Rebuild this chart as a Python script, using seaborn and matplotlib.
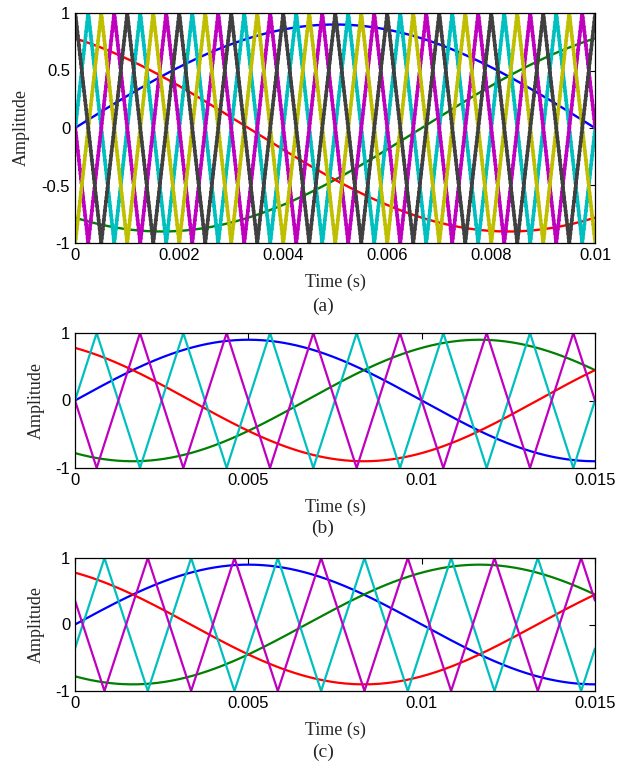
import numpy as np
import pandas as pd
import matplotlib
matplotlib.use("Agg")
import matplotlib.pyplot as plt
import seaborn as sns

# =============== DATA ===============
# reference sine waves, same in all three panels
SINE_NAMES = ["blue", "green", "red"]
SINE_AMPLITUDE = [0.9, 0.9, 0.9]
SINE_FREQ_HZ = [50, 50, 50]
SINE_PHASE_DEG = [0, -120, 120]

# triangular carriers: frequency and time of the first trough (s)
CARRIER_A_NAMES = ["cyan", "magenta", "yellow", "gray"]
CARRIER_A_FREQ_HZ = 1000
CARRIER_A_TROUGH_S = [0.00075, 0.00025, 0.0, 0.0005]
CARRIER_A_STEP_S = 1e-5

CARRIER_BC_NAMES = ["cyan", "magenta"]
CARRIER_BC_FREQ_HZ = 400
CARRIER_B_TROUGH_S = [0.001875, 0.000625]
CARRIER_C_TROUGH_S = [0.0021, 0.00085]

T_END = [0.01, 0.015, 0.015]
PANEL_LABELS = ["(a)", "(b)", "(c)"]

XTICKS_A = [0, 0.002, 0.004, 0.006, 0.008, 0.01]
XTICKLABELS_A = ["0", "0.002", "0.004", "0.006", "0.008", "0.01"]
XTICKS_BC = [0, 0.005, 0.01, 0.015]
XTICKLABELS_BC = ["0", "0.005", "0.01", "0.015"]
YTICKS_A = [-1, -0.5, 0, 0.5, 1]
YTICKLABELS_A = ["-1", "-0.5", "0", "0.5", "1"]
YTICKS_BC = [-1, 0, 1]
YTICKLABELS_BC = ["-1", "0", "1"]

COLORS = {
    "blue": (0, 0, 1), "green": (0, 0.5, 0), "red": (1, 0, 0),
    "cyan": (0, 0.75, 0.75), "magenta": (0.75, 0, 0.75),
    "yellow": (0.75, 0.75, 0), "gray": (0.25, 0.25, 0.25),
}


# =============== BUILD SIGNALS ===============
def sines(t):
    rows = []
    for name, a, f, ph in zip(SINE_NAMES, SINE_AMPLITUDE, SINE_FREQ_HZ, SINE_PHASE_DEG):
        y = a * np.sin(2 * np.pi * f * t + np.deg2rad(ph))
        rows.append(pd.DataFrame({"time": t, "amplitude": y, "signal": name}))
    return pd.concat(rows, ignore_index=True)


def carriers(t, names, freq, troughs):
    rows = []
    period = 1.0 / freq
    for name, t0 in zip(names, troughs):
        phase = np.mod((t - t0) / period, 1.0)
        y = 1 - 4 * np.abs(phase - 0.5)
        rows.append(pd.DataFrame({"time": t, "amplitude": y, "signal": name}))
    return pd.concat(rows, ignore_index=True)


t_a = np.linspace(0, T_END[0], 4001)
t_a_steps = np.arange(0, T_END[0] + CARRIER_A_STEP_S / 2, CARRIER_A_STEP_S)
t_bc = np.linspace(0, T_END[1], 6001)

panels = [
    (sines(t_a), carriers(t_a_steps, CARRIER_A_NAMES, CARRIER_A_FREQ_HZ, CARRIER_A_TROUGH_S), CARRIER_A_NAMES),
    (sines(t_bc), carriers(t_bc, CARRIER_BC_NAMES, CARRIER_BC_FREQ_HZ, CARRIER_B_TROUGH_S), CARRIER_BC_NAMES),
    (sines(t_bc), carriers(t_bc, CARRIER_BC_NAMES, CARRIER_BC_FREQ_HZ, CARRIER_C_TROUGH_S), CARRIER_BC_NAMES),
]

# =============== PLOT ===============
sns.set_style("white")
plt.rcParams["font.family"] = ["Liberation Sans", "DejaVu Sans"]

W, H = 626, 767
fig = plt.figure(figsize=(W / 100, H / 100), dpi=100)

# axes boxes in pixels: (left, top, right, bottom)
boxes = [(75, 13, 595, 243), (75, 333, 595, 468), (75, 558, 595, 691)]
label_y = [306, 528, 752]
ylabel_x = [21, 36, 36]

for i, (df_s, df_c, cnames) in enumerate(panels):
    l, t, r, b = boxes[i]
    ax = fig.add_axes([l / W, 1 - b / H, (r - l) / W, (b - t) / H])

    sns.lineplot(data=df_s, x="time", y="amplitude", hue="signal", hue_order=SINE_NAMES,
                 palette=COLORS, estimator=None, sort=False, legend=False,
                 linewidth=1.7 if i == 0 else 1.6, ax=ax)
    if i == 0:
        sns.lineplot(data=df_c, x="time", y="amplitude", hue="signal", hue_order=cnames,
                     palette=COLORS, estimator=None, sort=False, legend=False,
                     linewidth=2.5, drawstyle="steps-post", ax=ax)
    else:
        sns.lineplot(data=df_c, x="time", y="amplitude", hue="signal", hue_order=cnames,
                     palette=COLORS, estimator=None, sort=False, legend=False,
                     linewidth=1.6, ax=ax)

    ax.set_xlim(0, T_END[i])
    ax.set_ylim(-1, 1)
    if i == 0:
        ax.set_xticks(XTICKS_A, XTICKLABELS_A)
        ax.set_yticks(YTICKS_A, YTICKLABELS_A)
    else:
        ax.set_xticks(XTICKS_BC, XTICKLABELS_BC)
        ax.set_yticks(YTICKS_BC, YTICKLABELS_BC)

    ax.tick_params(direction="in", top=True, right=True, length=4, width=0.8,
                   labelsize=12, pad=3.5, colors="black")
    for sp in ax.spines.values():
        sp.set_visible(True)
        sp.set_color("black")
        sp.set_linewidth(0.9)

    ax.set_xlabel("Time (s)", family="Liberation Serif", fontsize=13, labelpad=7.5)
    ax.set_ylabel("")
    fig.text(ylabel_x[i] / W, 1 - ((t + b) / 2) / H, "Amplitude", family="Liberation Serif",
             fontsize=13, rotation=90, ha="center", va="center")
    fig.text(323 / W, 1 - label_y[i] / H, PANEL_LABELS[i], family="Liberation Serif",
             fontsize=14, ha="center", va="center")

fig.savefig("out.png", dpi=100)
